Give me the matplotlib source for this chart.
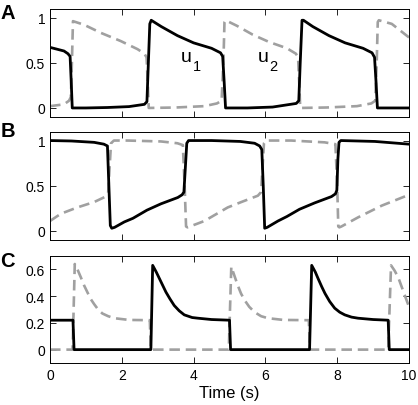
import matplotlib
matplotlib.use("Agg")
import matplotlib.pyplot as plt

plt.rcParams['font.family'] = ['Liberation Sans', 'DejaVu Sans']

# ---------------- Panel A ----------------
tA1 = [0, 0.39, 0.50, 0.56, 0.59, 0.62, 1.0, 1.6, 2.2, 2.63, 2.70, 2.74, 2.78, 2.82,
       3.10, 3.55, 4.00, 4.50, 4.75, 4.81, 4.85, 4.89, 5.5, 6.2, 6.86, 6.93, 6.97, 7.02, 7.06,
       7.32, 7.77, 8.22, 8.72, 8.97, 9.04, 9.08, 9.12, 10]
vA1 = [0.67, 0.63, 0.60, 0.57, 0.30, 0.0, 0.0, 0.005, 0.015, 0.04, 0.07, 0.50, 0.93, 0.97,
       0.90, 0.80, 0.72, 0.66, 0.61, 0.57, 0.30, 0.0, 0.0, 0.01, 0.05, 0.08, 0.50, 0.97, 0.97,
       0.90, 0.80, 0.72, 0.66, 0.61, 0.56, 0.30, 0.0, 0.0]
tA2 = [0, 0.39, 0.53, 0.58, 0.61, 0.64, 0.95, 1.42, 1.97, 2.44, 2.63, 2.69, 2.72, 2.75,
       3.5, 4.3, 4.65, 4.78, 4.83, 4.86, 4.89, 5.2, 5.65, 6.1, 6.6, 6.85, 6.91, 6.94, 6.97,
       7.7, 8.55, 8.95, 9.06, 9.10, 9.13, 9.16, 9.52, 10]
vA2 = [0.02, 0.04, 0.08, 0.12, 0.50, 0.96, 0.92, 0.83, 0.74, 0.65, 0.60, 0.56, 0.30, 0.0,
       0.005, 0.02, 0.05, 0.08, 0.50, 0.95, 0.97, 0.91, 0.81, 0.73, 0.66, 0.60, 0.56, 0.30, 0.0,
       0.005, 0.02, 0.05, 0.08, 0.50, 0.95, 0.97, 0.93, 0.78]

# ---------------- Panel B ----------------
tB1 = [0, 0.6, 1.23, 1.50, 1.60, 1.64, 1.68, 1.72, 1.80, 2.07, 2.31, 2.70, 3.09, 3.56, 3.68,
       3.73, 3.77, 3.81, 3.86, 4.5, 5.3, 5.70, 5.84, 5.90, 5.94, 5.98, 6.05, 6.35, 6.60, 6.95,
       7.37, 7.84, 7.95, 7.99, 8.02, 8.05, 8.10, 9.05, 10]
vB1 = [1.0, 0.995, 0.98, 0.96, 0.94, 0.50, 0.06, 0.03, 0.04, 0.10, 0.14, 0.23, 0.30, 0.37, 0.40,
       0.43, 0.70, 0.97, 1.0, 1.0, 0.99, 0.97, 0.94, 0.90, 0.50, 0.03, 0.04, 0.11, 0.16, 0.24,
       0.31, 0.38, 0.41, 0.45, 0.80, 0.98, 1.0, 0.99, 0.96]
tB2 = [0, 0.30, 0.76, 1.23, 1.55, 1.62, 1.66, 1.70, 1.78, 2.16, 3.09, 3.55, 3.70, 3.75, 3.79,
       3.83, 3.90, 4.3, 4.95, 5.33, 5.79, 5.88, 5.92, 5.96, 6.02, 6.72, 7.65, 7.95, 8.00, 8.03,
       8.06, 8.12, 8.58, 9.24, 10]
vB2 = [0.11, 0.19, 0.26, 0.32, 0.38, 0.42, 0.70, 0.97, 1.0, 1.0, 0.99, 0.97, 0.95, 0.50, 0.05,
       0.04, 0.05, 0.11, 0.26, 0.32, 0.39, 0.43, 0.70, 0.97, 1.0, 1.0, 0.98, 0.96, 0.50, 0.05,
       0.04, 0.05, 0.15, 0.28, 0.40]

# ---------------- Panel C ----------------
tC1 = [0, 0.64, 0.67, 2.81, 2.86, 2.96, 3.05, 3.14, 3.23, 3.34, 3.46, 3.60, 3.74, 3.96, 4.12,
       4.5, 5.0, 5.03, 7.23, 7.29, 7.39, 7.47, 7.57, 7.66, 7.79, 7.93, 8.07, 8.21, 8.40, 8.58,
       9.0, 9.42, 9.45, 10]
vC1 = [0.22, 0.22, 0.0, 0.0, 0.63, 0.58, 0.53, 0.48, 0.43, 0.38, 0.33, 0.29, 0.26, 0.24, 0.235,
       0.225, 0.22, 0.0, 0.0, 0.63, 0.58, 0.53, 0.47, 0.42, 0.36, 0.31, 0.28, 0.26, 0.243, 0.235,
       0.225, 0.22, 0.0, 0.0]
tC2 = [0, 0.63, 0.69, 0.78, 0.86, 0.95, 1.04, 1.13, 1.23, 1.34, 1.46, 1.62, 1.79, 2.2, 2.78,
       2.81, 4.98, 5.05, 5.14, 5.23, 5.32, 5.42, 5.55, 5.70, 5.88, 6.07, 6.5, 7.21, 7.24, 9.42,
       9.50, 9.60, 9.70, 9.85, 10]
vC2 = [0.0, 0.0, 0.64, 0.59, 0.54, 0.48, 0.43, 0.38, 0.34, 0.30, 0.27, 0.25, 0.235, 0.222, 0.22,
       0.0, 0.0, 0.62, 0.55, 0.48, 0.42, 0.37, 0.32, 0.28, 0.25, 0.235, 0.222, 0.22, 0.0, 0.0,
       0.63, 0.59, 0.54, 0.43, 0.32]

panel_letters = ['A', 'B', 'C']
yticksA = [0, 0.5, 1]
yticklabelsA = ['0', '0.5', '1']
yticksC = [0, 0.2, 0.4, 0.6]
yticklabelsC = ['0', '0.2', '0.4', '0.6']
xticks = [0, 2, 4, 6, 8, 10]
xlabel = 'Time (s)'
curve_names = ['u', 'u']
curve_subs = ['1', '2']

W, H = 418, 406
fig = plt.figure(figsize=(W / 100, H / 100), dpi=100)

left = 50 / W
width = 359 / W
axA = fig.add_axes([left, (H - 118) / H, width, 108.5 / H])
axB = fig.add_axes([left, (H - 241) / H, width, 108.5 / H])
axC = fig.add_axes([left, (H - 364) / H, width, 107 / H])

gray = '#a0a0a0'
dash_kw = dict(color=gray, lw=1.9, dashes=(4, 2.2))
solid_kw = dict(color='black', lw=2.0)

for ax, (t1, v1, t2, v2) in zip(
        [axA, axB, axC],
        [(tA1, vA1, tA2, vA2), (tB1, vB1, tB2, vB2), (tC1, vC1, tC2, vC2)]):
    ax.plot(t2, v2, **dash_kw)
    ax.plot(t1, v1, **solid_kw)
    ax.set_xlim(0, 10)
    ax.set_xticks(xticks)
    ax.tick_params(direction='in', top=True, right=True, length=4, width=0.6,
                   labelsize=10, pad=3.5)
    for s in ax.spines.values():
        s.set_linewidth(0.7)

for ax in [axA, axB]:
    ax.set_ylim(-0.1, 1.1)
    ax.set_yticks(yticksA)
    ax.set_yticklabels(yticklabelsA)
    ax.set_xticklabels([])

axC.set_ylim(-0.1, 0.7)
axC.set_yticks(yticksC)
axC.set_yticklabels(yticklabelsC)
axC.set_xticklabels([str(x) for x in xticks])
axC.set_xlabel(xlabel, fontsize=12, labelpad=2)

for name, sub, x0 in zip(curve_names, curve_subs, [3.65, 5.79]):
    axA.text(x0, 0.52, name, fontsize=14, ha='left', va='baseline')
    axA.text(x0 + 0.32, 0.42, sub, fontsize=10.5, ha='left', va='baseline')

for letter, ybase in zip(panel_letters, [19.3, 136.7, 266.7]):
    fig.text(0.5 / W, (H - ybase) / H, letter, fontsize=14.5, fontweight='bold',
             ha='left', va='baseline')

fig.savefig('out.png', dpi=100)
